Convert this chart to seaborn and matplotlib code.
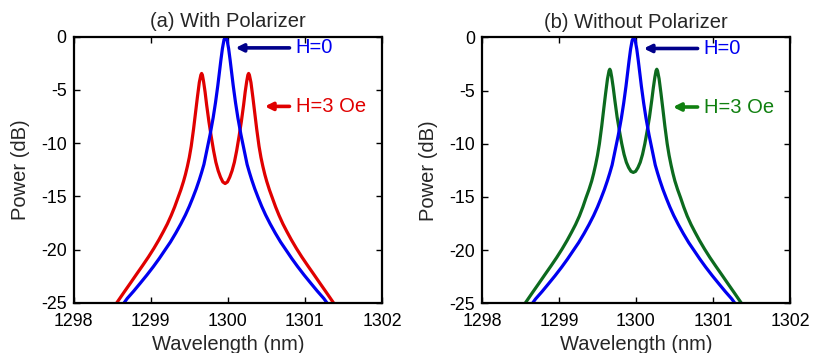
import matplotlib
matplotlib.use("Agg")
import matplotlib.pyplot as plt
import seaborn as sns

# ---------------- data ----------------
# H = 0 curve (same in both panels)
blue_x = [1298.655, 1298.695, 1298.78, 1298.86, 1298.95, 1299.035, 1299.11, 1299.18, 1299.255, 1299.325,
          1299.39, 1299.45, 1299.50, 1299.545, 1299.59, 1299.63, 1299.66, 1299.69,
          1299.73, 1299.77, 1299.81, 1299.84, 1299.87, 1299.89, 1299.91, 1299.93, 1299.95, 1299.97,
          1299.99, 1300.01, 1300.03, 1300.05, 1300.07, 1300.10, 1300.13, 1300.17, 1300.21,
          1300.25, 1300.28, 1300.31, 1300.35, 1300.395, 1300.44, 1300.49, 1300.55, 1300.615,
          1300.685, 1300.76, 1300.83, 1300.905, 1300.99, 1301.08, 1301.16, 1301.245, 1301.285]
blue_y = [-25.0, -24.6, -23.9, -23.2, -22.4, -21.6, -20.85, -20.1, -19.3, -18.45,
          -17.6, -16.75, -15.95, -15.15, -14.3, -13.45, -12.75, -12.0,
          -10.6, -9.2, -7.6, -6.2, -4.6, -3.4, -2.2, -1.1, -0.3, 0.0,
          -0.3, -1.1, -2.2, -3.4, -4.6, -6.2, -7.6, -9.2, -10.6,
          -12.0, -12.75, -13.45, -14.3, -15.15, -15.95, -16.75, -17.6, -18.45,
          -19.3, -20.1, -20.85, -21.6, -22.4, -23.2, -23.9, -24.6, -25.0]

# H = 3 Oe curves (shared wavelength grid)
split_x = [1298.560, 1298.655, 1298.735, 1298.815, 1298.895, 1298.970, 1299.040, 1299.105, 1299.165,
           1299.215, 1299.265, 1299.310, 1299.350, 1299.390, 1299.425, 1299.450, 1299.475, 1299.500,
           1299.525, 1299.555, 1299.580, 1299.605, 1299.630, 1299.650, 1299.660, 1299.670, 1299.685, 1299.705,
           1299.725, 1299.755, 1299.785, 1299.815, 1299.845, 1299.875, 1299.905, 1299.935, 1299.965,
           1299.995, 1300.025, 1300.055, 1300.085, 1300.115, 1300.145, 1300.175, 1300.205, 1300.225, 1300.245,
           1300.260, 1300.270, 1300.280, 1300.300, 1300.325, 1300.350, 1300.375, 1300.405, 1300.430,
           1300.455, 1300.480, 1300.505, 1300.540, 1300.580, 1300.620, 1300.665, 1300.715, 1300.765,
           1300.825, 1300.890, 1300.960, 1301.035, 1301.115, 1301.195, 1301.275, 1301.370]
red_y = [-25.0, -24.0, -23.17, -22.33, -21.5, -20.7, -19.9, -19.1, -18.3,
         -17.6, -16.8, -16.0, -15.2, -14.4, -13.6, -12.95, -12.2, -11.35,
         -10.3, -8.7, -7.2, -5.7, -4.3, -3.6, -3.45, -3.6, -4.2, -5.2,
         -6.4, -8.0, -9.4, -10.7, -11.8, -12.6, -13.2, -13.65, -13.8,
         -13.65, -13.2, -12.6, -11.8, -10.7, -9.4, -8.0, -6.4, -5.2, -4.2,
         -3.6, -3.45, -3.6, -4.3, -5.7, -7.2, -8.7, -10.3, -11.35,
         -12.2, -12.95, -13.6, -14.4, -15.2, -16.0, -16.8, -17.6, -18.3,
         -19.1, -19.9, -20.7, -21.5, -22.33, -23.17, -24.0, -25.0]
green_y = [-25.0, -24.0, -23.17, -22.33, -21.5, -20.7, -19.9, -19.1, -18.3,
           -17.6, -16.8, -15.95, -15.1, -14.3, -13.5, -12.8, -12.0, -11.1,
           -10.0, -8.35, -6.8, -5.3, -3.9, -3.15, -3.0, -3.15, -3.75, -4.75,
           -5.9, -7.5, -8.8, -10.0, -11.0, -11.75, -12.25, -12.6, -12.7,
           -12.6, -12.25, -11.75, -11.0, -10.0, -8.8, -7.5, -5.9, -4.75, -3.75,
           -3.15, -3.0, -3.15, -3.9, -5.3, -6.8, -8.35, -10.0, -11.1,
           -12.0, -12.8, -13.5, -14.3, -15.1, -15.95, -16.8, -17.6, -18.3,
           -19.1, -19.9, -20.7, -21.5, -22.33, -23.17, -24.0, -25.0]

titles = ["(a) With Polarizer", "(b) Without Polarizer"]
x_ticks = [1298, 1299, 1300, 1301, 1302]
y_ticks = [0, -5, -10, -15, -20, -25]
label_h0 = "H=0"
label_h3 = "H=3 Oe"

# ---------------- styling ----------------
sns.set_style("ticks")
plt.rcParams["font.family"] = ["Liberation Sans", "DejaVu Sans"]
plt.rcParams["axes.unicode_minus"] = False

BLUE = "#0000F0"
NAVY = "#00008B"
RED = "#E00000"
GREEN_LINE = "#0C6A1E"
GREEN_TXT = "#108010"

fig = plt.figure(figsize=(8.25, 3.53), dpi=100)
ax_a = fig.add_axes([0.0893, 0.1425, 0.3737, 0.7535])
ax_b = fig.add_axes([0.5842, 0.1408, 0.3734, 0.7535])

panels = [
    (ax_a, red_y, RED, RED, RED),
    (ax_b, green_y, GREEN_LINE, GREEN_TXT, GREEN_TXT),
]

for i, (ax, split_y, lcol, tcol, acol) in enumerate(panels):
    sns.lineplot(x=split_x, y=split_y, ax=ax, color=lcol, lw=2.3)
    sns.lineplot(x=blue_x, y=blue_y, ax=ax, color=BLUE, lw=2.3)

    ax.set_xlim(1298, 1302)
    ax.set_ylim(-25, 0)
    ax.set_xticks(x_ticks)
    ax.set_yticks(y_ticks)
    ax.set_xticklabels([str(t) for t in x_ticks])
    ax.set_yticklabels([str(t) for t in y_ticks])
    ax.tick_params(direction="in", length=4.5, width=1.0, top=True, right=True,
                   labelsize=12.8, colors="black")
    ax.tick_params(axis="x", pad=7.3)
    ax.tick_params(axis="y", pad=5)
    for s in ax.spines.values():
        s.set_linewidth(1.6)
        s.set_color("black")
        s.set_visible(True)
    ax.set_xlabel("Wavelength (nm)", fontsize=14.5)
    ax.set_ylabel("Power (dB)", fontsize=14.5)
    ax.yaxis.set_label_coords(-0.142, 0.5)
    ax.xaxis.set_label_coords(0.5, -0.12)
    ax.set_title(titles[i], fontsize=14.5, pad=7)

    # annotations
    ax.annotate("", xy=(1300.10, -1.05), xytext=(1300.80, -1.05),
                arrowprops=dict(arrowstyle="-|>", color=NAVY, lw=2.6,
                                mutation_scale=11, shrinkA=0, shrinkB=0))
    ax.text(1300.88, -1.05, label_h0, color=BLUE, fontsize=14.5, va="center", ha="left")
    ax.annotate("", xy=(1300.48, -6.55), xytext=(1300.80, -6.55),
                arrowprops=dict(arrowstyle="-|>", color=acol, lw=2.6,
                                mutation_scale=11, shrinkA=0, shrinkB=0))
    ax.text(1300.88, -6.55, label_h3, color=tcol, fontsize=14.5, va="center", ha="left")

fig.savefig("out.png", dpi=100)
